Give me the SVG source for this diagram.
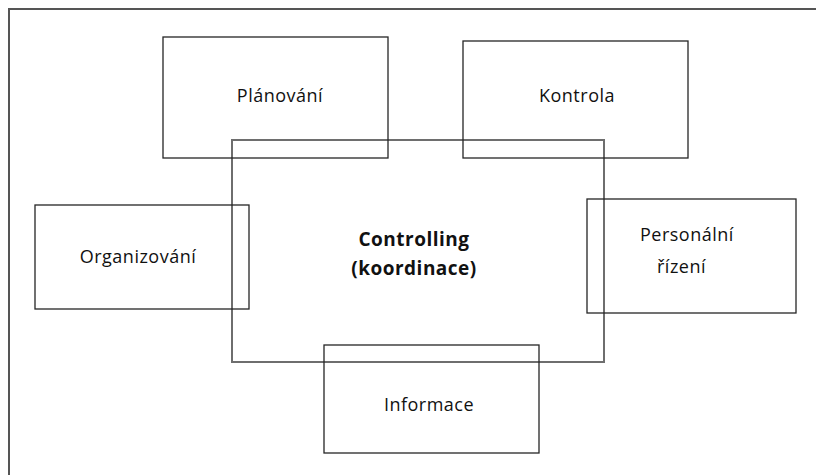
<svg xmlns="http://www.w3.org/2000/svg" width="816" height="475" viewBox="0 0 816 475">
<style>
.box{fill:none;stroke:#262626;stroke-width:1.3}
.center{fill:none;stroke:#6e6e6e;stroke-width:2}
.frame{fill:none;stroke:#555;stroke-width:2}
text{font-family:"Open Sans","Liberation Sans",sans-serif;font-size:18px;fill:#111;letter-spacing:0.5px}
.bold{font-weight:bold;font-size:19px}
</style>
<rect width="816" height="475" fill="#fff"/>
<path class="frame" d="M9,475 V9 H816"/>
<g id="controlling">
<rect class="center" x="232" y="140" width="372" height="222"/>
<text class="bold" x="414" y="246" text-anchor="middle">Controlling</text>
<text class="bold" x="414" y="275" text-anchor="middle">(koordinace)</text>
</g>
<g id="planovani">
<rect class="box" x="163" y="37" width="225" height="121"/>
<text x="280" y="102" text-anchor="middle">Plánování</text>
</g>
<g id="kontrola">
<rect class="box" x="463" y="41" width="225" height="117"/>
<text x="577" y="102" text-anchor="middle">Kontrola</text>
</g>
<g id="organizovani">
<rect class="box" x="35" y="205" width="214" height="104"/>
<text x="138" y="263" text-anchor="middle">Organizování</text>
</g>
<g id="personalni">
<rect class="box" x="587" y="199" width="209" height="114"/>
<text x="640" y="241">Personální</text>
<text x="657" y="273">řízení</text>
</g>
<g id="informace">
<rect class="box" x="324" y="345" width="215" height="108"/>
<text x="429" y="411" text-anchor="middle">Informace</text>
</g>
<g id="connectors"></g>
</svg>
